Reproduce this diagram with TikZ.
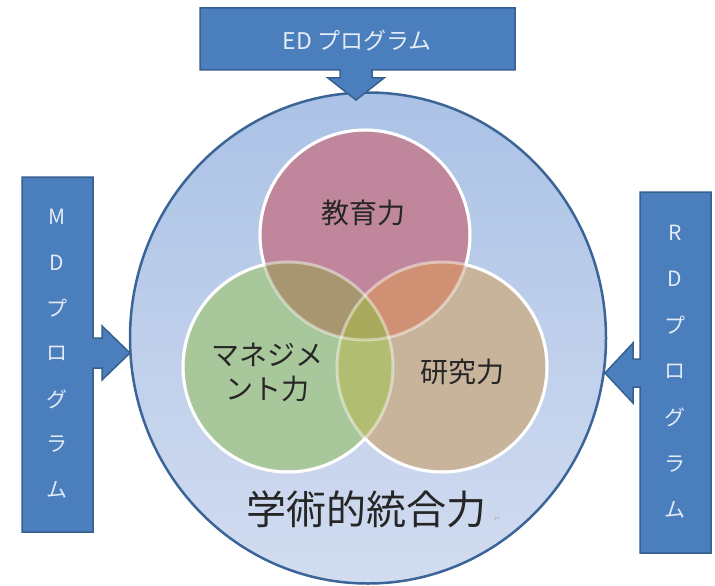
\documentclass[tikz,border=0pt]{standalone}
\usepackage{fontspec}
\setmainfont{Noto Sans CJK JP}
\newfontfamily\symfont{DejaVu Sans}
\usetikzlibrary{shapes.geometric}
\definecolor{boxblue}{HTML}{4A7EBC}
\definecolor{boxedge}{HTML}{36608F}
\definecolor{boxtext}{HTML}{E3EBF6}
\definecolor{ringedge}{HTML}{3B6597}
\definecolor{ringtop}{HTML}{ABC2E6}
\definecolor{ringbot}{HTML}{D2DCF0}
\definecolor{cred}{HTML}{C0869B}
\definecolor{cgreen}{HTML}{A8C79B}
\definecolor{cbrown}{HTML}{C7B49B}
\definecolor{crg}{HTML}{A7966F}
\definecolor{crb}{HTML}{CF9073}
\definecolor{cgb}{HTML}{B1BD70}
\definecolor{crgb}{HTML}{A9A95B}
\definecolor{labtext}{HTML}{262626}
\begin{document}
\begin{tikzpicture}[x=1pt,y=-1pt,
  prog/.style={fill=boxblue,draw=boxedge,line width=1.5pt,line join=miter},
  progtext/.style={text=boxtext,inner sep=0pt,font=\fontsize{21}{21}\selectfont},
  toptext/.style={text=boxtext,inner sep=0pt,font=\fontsize{23}{23}\selectfont},
  circtext/.style={text=labtext,inner sep=0pt,align=center,font=\fontsize{28}{34}\selectfont},
  bigtext/.style={text=labtext,inner sep=0pt,font=\fontsize{40}{40}\selectfont},
  rim/.style={white,line width=3pt},
  innerrim/.style={white,opacity=0.45,line width=3pt}
]
\useasboundingbox (0,0) rectangle (715,586);
% outer ellipse
\node[ellipse,minimum width=476pt,minimum height=491pt,inner sep=0pt,
      draw=ringedge,line width=2.5pt,top color=ringtop,bottom color=ringbot]
      (ring) at (368,338) {};
% program boxes with block arrows
\path[prog] (200,8) -- (515,8) -- (515,70) -- (372,70) -- (372,78) -- (384,78)
  -- (356,100) -- (328,78) -- (340,78) -- (340,70) -- (200,70) -- cycle;
\path[prog] (22,177) -- (93,177) -- (93,338) -- (102,338) -- (102,326) -- (130,353)
  -- (102,380) -- (102,368) -- (93,368) -- (93,532) -- (22,532) -- cycle;
\path[prog] (640,192) -- (711,192) -- (711,553) -- (640,553) -- (640,387) -- (633,387)
  -- (633,403) -- (605,373) -- (633,343) -- (633,359) -- (640,359) -- cycle;
\node[toptext] (ed) at (357,41) {ED プログラム};
\foreach \c [count=\i] in {M,D,プ,ロ,グ,ラ,ム}
  \node[progtext] (md\i) at (57,{217+45.5*(\i-1)}) {\c};
\foreach \c [count=\i] in {R,D,プ,ロ,グ,ラ,ム}
  \node[progtext] (rd\i) at (675,{233+46.2*(\i-1)}) {\c};
% Venn circles
\coordinate (cR) at (365,235);
\coordinate (cG) at (288,367);
\coordinate (cB) at (442,367);
\fill[cred] (cR) circle[radius=105];
\fill[cgreen] (cG) circle[radius=105];
\fill[cbrown] (cB) circle[radius=105];
\begin{scope}
  \clip (cG) circle[radius=105];
  \fill[cgb] (cB) circle[radius=105];
\end{scope}
\begin{scope}
  \clip (cR) circle[radius=105];
  \fill[crg] (cG) circle[radius=105];
  \fill[crb] (cB) circle[radius=105];
\end{scope}
\begin{scope}
  \clip (cR) circle[radius=105];
  \clip (cG) circle[radius=105];
  \fill[crgb] (cB) circle[radius=105];
\end{scope}
\draw[innerrim] (cR) circle[radius=105];
\draw[innerrim] (cG) circle[radius=105];
\draw[innerrim] (cB) circle[radius=105];
\draw[rim] (cR) ++(163.6:105) arc[start angle=163.6,end angle=376.4,radius=105];
\draw[rim] (cG) ++(42.8:105) arc[start angle=42.8,end angle=256.96,radius=105];
\draw[rim] (cB) ++(-76.96:105) arc[start angle=-76.96,end angle=137.2,radius=105];
% labels
\node[circtext] (edu) at (363,213) {教育力};
\node[circtext] (mgmt) at (267,372) {マネジメ\\ント力};
\node[circtext] (res) at (462,372) {研究力};
\node[bigtext] (acad) at (366,509) {学術的統合力};
\node[inner sep=0pt,text=gray!60,font=\symfont\fontsize{8}{8}\selectfont] (ret) at (497,519) {↵};
\end{tikzpicture}
\end{document}
